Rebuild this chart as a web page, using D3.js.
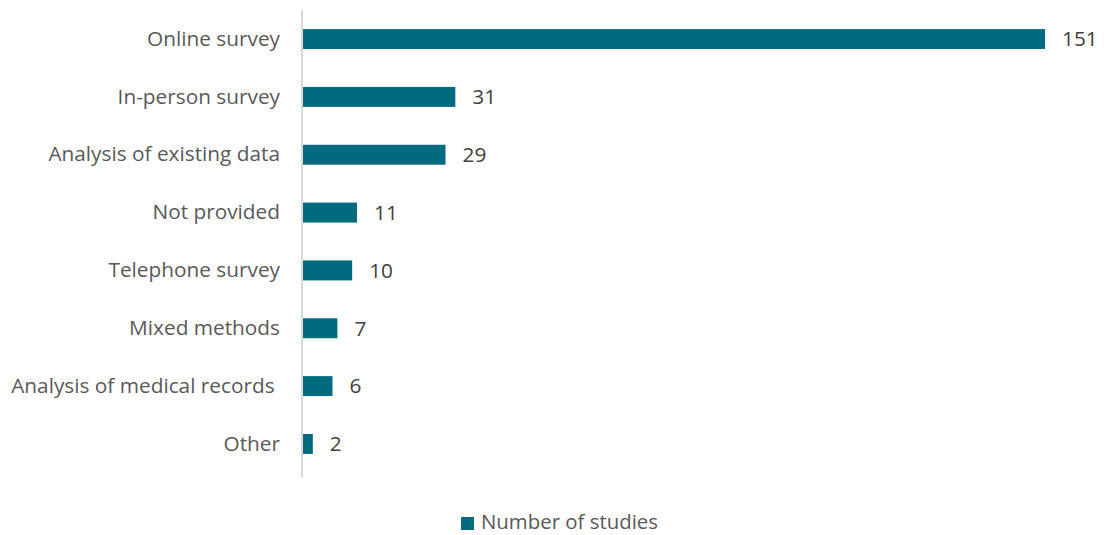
<!DOCTYPE html>
<html>
<head>
<meta charset="utf-8">
<script src="https://cdn.jsdelivr.net/npm/d3@7"></script>
<style>
  body { margin: 0; background: #fff; }
  text { font-family: "Open Sans", sans-serif; }
</style>
</head>
<body>
<div id="chart"></div>
<script>
// Data
const categories = ["Online survey", "In-person survey", "Analysis of existing data", "Not provided",
    "Telephone survey", "Mixed methods", "Analysis of medical records ", "Other"];
const studies = [151, 31, 29, 11, 10, 7, 6, 2];
const seriesName = "Number of studies";

const width = 1104, height = 535;
const margin = { top: 10, right: 59, bottom: 62, left: 303 };
const barColor = "#006a7e";
const fontSize = "20.8px";

const svg = d3.select("#chart").append("svg")
    .attr("width", width)
    .attr("height", height);

const data = categories.map((c, i) => ({ cat: c, val: studies[i] }));

// Scales
const x = d3.scaleLinear()
    .domain([0, 151])
    .range([margin.left, 1045]);

const y = d3.scaleBand()
    .domain(categories)
    .range([margin.top, height - margin.bottom])
    .paddingInner(0.655)
    .paddingOuter(0.33);

// Bars
svg.selectAll("rect.bar")
    .data(data)
    .enter().append("rect")
    .attr("class", "bar")
    .attr("x", x(0))
    .attr("y", d => y(d.cat))
    .attr("width", d => x(d.val) - x(0))
    .attr("height", y.bandwidth())
    .attr("fill", barColor);

// Category axis (left)
const yAxis = svg.append("g")
    .attr("transform", `translate(${margin.left - 1},0)`)
    .call(d3.axisLeft(y).tickSize(0).tickPadding(22));
yAxis.select(".domain").attr("stroke", "#d9d9d9").attr("stroke-width", 2)
    .attr("d", `M0,${margin.top}V${height - margin.bottom + 4}`);
yAxis.selectAll("text")
    .style("font-family", "'Open Sans', sans-serif")
    .style("font-size", fontSize)
    .style("white-space", "pre")
    .attr("fill", "#595959");

// Value labels
svg.selectAll("text.val")
    .data(data)
    .enter().append("text")
    .attr("class", "val")
    .attr("x", d => x(d.val) + 17)
    .attr("y", d => y(d.cat) + y.bandwidth() / 2)
    .attr("dy", "0.35em")
    .style("font-size", fontSize)
    .attr("fill", "#404040")
    .text(d => d.val);

// Legend
const legend = svg.append("g").attr("transform", "translate(461,517)");
legend.append("rect")
    .attr("width", 13).attr("height", 13)
    .attr("fill", barColor);
legend.append("text")
    .attr("x", 20)
    .attr("y", 12)
    .style("font-size", "20.4px")
    .attr("fill", "#595959")
    .text(seriesName);
</script>
</body>
</html>
